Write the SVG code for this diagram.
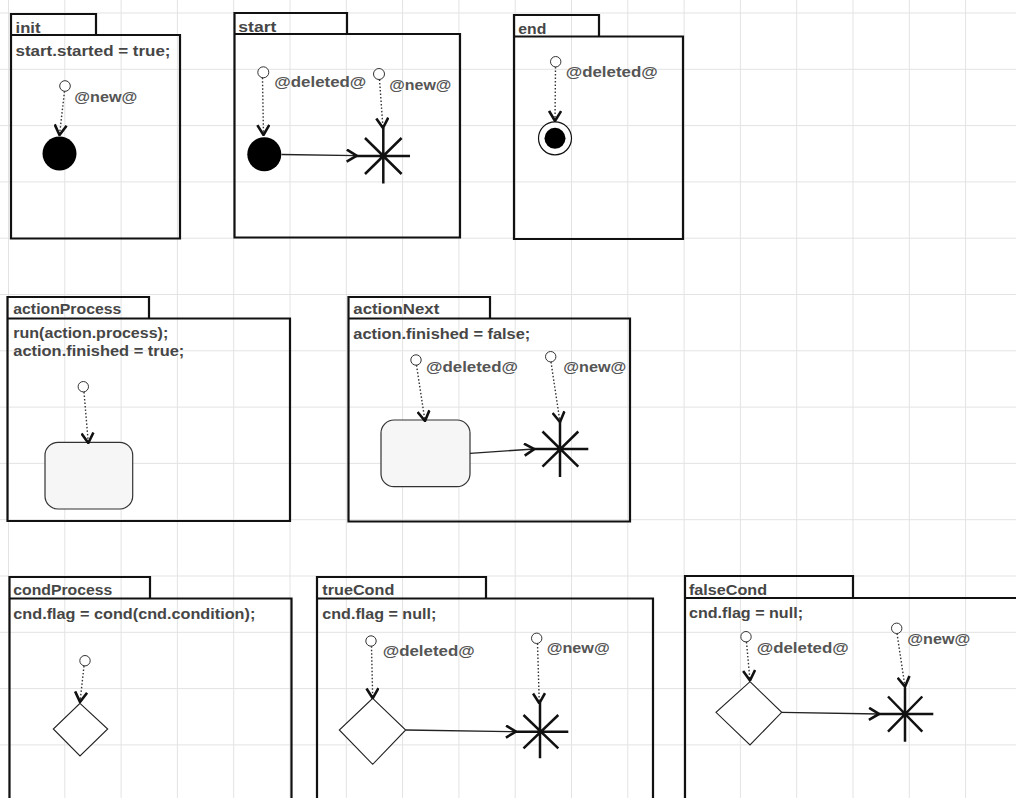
<svg xmlns="http://www.w3.org/2000/svg" width="1016" height="798" viewBox="0 0 1016 798">
<style>
.grid{stroke:#e3e3e3;stroke-width:1;fill:none}
.pkg{fill:none;stroke:#111;stroke-width:2.2}
.t{font-family:"Liberation Sans","Open Sans",sans-serif;font-weight:bold;font-size:15.5px;fill:#464646}
.lbl{font-family:"Liberation Sans","Open Sans",sans-serif;font-weight:bold;font-size:15.5px;fill:#555}
.ps{fill:#fff;stroke:#333;stroke-width:1}
.init{fill:#000}
.state{fill:#f6f6f6;stroke:#333;stroke-width:1.2}
.dia{fill:#fff;stroke:#222;stroke-width:1.1}
.star{stroke:#111;stroke-width:2.5;fill:none}
.dot{fill:none;stroke:#333;stroke-width:1.4;stroke-dasharray:1.5 2}
.solid{fill:none;stroke:#222;stroke-width:1.3}
</style>
<defs>
<marker id="chev" viewBox="0 0 12 14" refX="11" refY="7" markerWidth="12" markerHeight="14" markerUnits="userSpaceOnUse" orient="auto">
<path d="M1,1 L11,7 L1,13" fill="none" stroke="#111" stroke-width="2.6" stroke-dasharray="none"/>
</marker>
</defs>
<rect width="1016" height="798" fill="#fff"/>
<g id="grid" class="grid">
<path d="M8.5,0V798M64.8,0V798M121.1,0V798M177.4,0V798M233.7,0V798M290,0V798M346.3,0V798M402.6,0V798M458.9,0V798M515.2,0V798M571.5,0V798M627.8,0V798M684.1,0V798M740.4,0V798M796.7,0V798M853,0V798M909.3,0V798M965.6,0V798"/>
<path d="M0,13H1016M0,69.3H1016M0,125.6H1016M0,181.9H1016M0,238.2H1016M0,294.5H1016M0,350.8H1016M0,407.1H1016M0,463.4H1016M0,519.7H1016M0,576H1016M0,632.3H1016M0,688.6H1016M0,744.9H1016"/>
</g>

<g id="init">
<path class="pkg" d="M11,35V14H96V35M11,35H180V238.5H11Z"/>
<text class="t" x="15.5" y="33" textLength="25" lengthAdjust="spacingAndGlyphs">init</text>
<text class="t" x="15.5" y="55.5" textLength="155" lengthAdjust="spacingAndGlyphs">start.started = true;</text>
<circle class="ps" cx="65" cy="86" r="5.3"/>
<text class="lbl" x="74.3" y="101.5" textLength="63" lengthAdjust="spacingAndGlyphs">@new@</text>
<circle class="init" cx="59.5" cy="153.5" r="17"/>
</g>

<g id="start">
<path class="pkg" d="M234.5,34V13H347V34M234.5,34H460V237.5H234.5Z"/>
<text class="t" x="238.3" y="32" textLength="38" lengthAdjust="spacingAndGlyphs">start</text>
<circle class="ps" cx="263.3" cy="72.3" r="5.5"/>
<text class="lbl" x="274.3" y="87" textLength="92" lengthAdjust="spacingAndGlyphs">@deleted@</text>
<circle class="init" cx="264.3" cy="154.3" r="17"/>
<circle class="ps" cx="379" cy="74" r="5.5"/>
<text class="lbl" x="389.3" y="90" textLength="62" lengthAdjust="spacingAndGlyphs">@new@</text>
<path class="star" d="M356,156H410M383.3,128V183.5M365,138L401.6,174M365,174L401.6,138"/>
</g>

<g id="end">
<path class="pkg" d="M514,36.5V15H599V36.5M514,36.5H683V239H514Z"/>
<text class="t" x="518.3" y="34" textLength="28" lengthAdjust="spacingAndGlyphs">end</text>
<circle class="ps" cx="555.7" cy="61.7" r="5.2"/>
<text class="lbl" x="565.7" y="77" textLength="92" lengthAdjust="spacingAndGlyphs">@deleted@</text>
<circle cx="555" cy="138.3" r="16.5" fill="#fff" stroke="#111" stroke-width="1.2"/>
<circle class="init" cx="555" cy="138.3" r="10.5"/>
</g>

<g id="actionProcess">
<path class="pkg" d="M7.5,318.5V297H149V318.5M7.5,318.5H290V521H7.5Z"/>
<text class="t" x="13.3" y="314" textLength="108" lengthAdjust="spacingAndGlyphs">actionProcess</text>
<text class="t" x="13.3" y="338.3" textLength="155" lengthAdjust="spacingAndGlyphs">run(action.process);</text>
<text class="t" x="13.3" y="356" textLength="171" lengthAdjust="spacingAndGlyphs">action.finished = true;</text>
<circle class="ps" cx="83.3" cy="386.7" r="5.2"/>
<rect class="state" x="45" y="442.3" width="87.7" height="66.7" rx="13"/>
</g>

<g id="actionNext">
<path class="pkg" d="M348.5,318.5V297H490V318.5M348.5,318.5H630V521.5H348.5Z"/>
<text class="t" x="353.3" y="314" textLength="86" lengthAdjust="spacingAndGlyphs">actionNext</text>
<text class="t" x="353.3" y="338.5" textLength="177" lengthAdjust="spacingAndGlyphs">action.finished = false;</text>
<circle class="ps" cx="416" cy="360" r="5.2"/>
<text class="lbl" x="426" y="372" textLength="92" lengthAdjust="spacingAndGlyphs">@deleted@</text>
<rect class="state" x="381" y="420" width="89" height="66.7" rx="13"/>
<circle class="ps" cx="550.7" cy="356.7" r="5.2"/>
<text class="lbl" x="563.3" y="371.5" textLength="63" lengthAdjust="spacingAndGlyphs">@new@</text>
<path class="star" d="M534,449H588.3M560,421.5V477M542.5,431.5L578.3,466.7M542.5,466.7L578.3,431.5"/>
</g>

<g id="condProcess">
<path class="pkg" d="M9.5,598.5V577H150V598.5M9.5,598.5H291.5V812M9.5,598.5V812"/>
<text class="t" x="13.3" y="595" textLength="99" lengthAdjust="spacingAndGlyphs">condProcess</text>
<text class="t" x="13.3" y="618.5" textLength="242" lengthAdjust="spacingAndGlyphs">cnd.flag = cond(cnd.condition);</text>
<circle class="ps" cx="85" cy="660.7" r="5.2"/>
<path class="dia" d="M80,703.3L107.7,729L80,756L53.3,729Z"/>
</g>

<g id="trueCond">
<path class="pkg" d="M317,598.5V577H486V598.5M317,598.5H653V812M317,598.5V812"/>
<text class="t" x="322.3" y="595" textLength="72" lengthAdjust="spacingAndGlyphs">trueCond</text>
<text class="t" x="322.3" y="619" textLength="114" lengthAdjust="spacingAndGlyphs">cnd.flag = null;</text>
<circle class="ps" cx="371" cy="641" r="5.2"/>
<text class="lbl" x="382.7" y="656" textLength="92" lengthAdjust="spacingAndGlyphs">@deleted@</text>
<path class="dia" d="M372.7,698.3L405.7,730L372.7,764.3L339.3,730Z"/>
<circle class="ps" cx="536.7" cy="638.3" r="5.2"/>
<text class="lbl" x="546.7" y="653" textLength="63" lengthAdjust="spacingAndGlyphs">@new@</text>
<path class="star" d="M516,731.7H568.3M540,702.5V758.3M523.5,715L558.3,748.3M523.5,748.3L558.3,715"/>
</g>

<g id="falseCond">
<path class="pkg" d="M685,598V576H853V598M685,598H1020M685,598V812"/>
<text class="t" x="689" y="594.5" textLength="78" lengthAdjust="spacingAndGlyphs">falseCond</text>
<text class="t" x="689" y="618" textLength="114" lengthAdjust="spacingAndGlyphs">cnd.flag = null;</text>
<circle class="ps" cx="746" cy="636.7" r="5.2"/>
<text class="lbl" x="756.7" y="653" textLength="92" lengthAdjust="spacingAndGlyphs">@deleted@</text>
<path class="dia" d="M750,681.7L781.7,712.3L750,745L716,712.3Z"/>
<circle class="ps" cx="896.7" cy="628.3" r="5.2"/>
<text class="lbl" x="907.3" y="644" textLength="63" lengthAdjust="spacingAndGlyphs">@new@</text>
<path class="star" d="M879,714H933.3M905,687.5V741.7M888,696.5L922.3,731.7M888,731.7L922.3,696.5"/>
</g>

<g id="connectors">
<path class="dot" d="M64.5,91.3L59.5,135" marker-end="url(#chev)"/>
<path class="dot" d="M262.5,77.8L263.5,135" marker-end="url(#chev)"/>
<path class="solid" d="M281.5,154.5L356.7,155.7" marker-end="url(#chev)"/>
<path class="dot" d="M379.5,79.5L383,128" marker-end="url(#chev)"/>
<path class="dot" d="M555.5,67L555,121" marker-end="url(#chev)"/>
<path class="dot" d="M84,392L88.3,443" marker-end="url(#chev)"/>
<path class="dot" d="M416.5,365.2L425,421" marker-end="url(#chev)"/>
<path class="solid" d="M470,453.3L534.3,449" marker-end="url(#chev)"/>
<path class="dot" d="M551,362L560,422" marker-end="url(#chev)"/>
<path class="dot" d="M84,666L80,702" marker-end="url(#chev)"/>
<path class="dot" d="M371.5,646.2L372.7,698.3" marker-end="url(#chev)"/>
<path class="solid" d="M405.7,730L516,731.7" marker-end="url(#chev)"/>
<path class="dot" d="M537.5,643.5L539.3,703.3" marker-end="url(#chev)"/>
<path class="dot" d="M746.5,642L750,680.5" marker-end="url(#chev)"/>
<path class="solid" d="M781.7,712.3L879,714" marker-end="url(#chev)"/>
<path class="dot" d="M897,633.5L905,686.7" marker-end="url(#chev)"/>
</g>
</svg>
